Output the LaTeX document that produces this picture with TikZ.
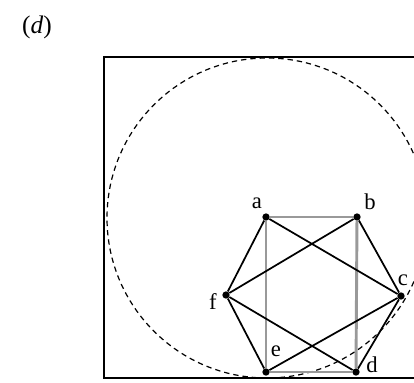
\documentclass[tikz,border=0pt]{standalone}
\usepackage{fontspec}
\setmainfont{Liberation Serif}
\usetikzlibrary{positioning}

\begin{document}
\begin{tikzpicture}[x=0.75pt, y=-0.75pt, font=\fontsize{17}{20}\selectfont,
  vtx/.style={circle, fill=black, inner sep=0pt, minimum size=5.5pt},
  blk/.style={line width=1.3pt},
  gry/.style={line width=2.2pt, black!40},
  lab/.style={inner sep=0pt}]
\useasboundingbox (0,0) rectangle (414,382);
\clip (0,0) rectangle (414,382);
\node[font=\fontsize{19}{22}\selectfont] (tag) at (37,27) {(\textit{d})};
\draw[line width=1.8pt] (104,57) rectangle (440,378);
\draw[line width=0.9pt, dash pattern=on 4pt off 3pt] (267,218) circle (160);
\node[vtx] (a) at (266,217) {};
\node[vtx] (b) at (357,217) {};
\node[vtx] (c) at (401,296) {};
\node[vtx] (d) at (356,372) {};
\node[vtx] (e) at (266,372) {};
\node[vtx] (f) at (226,295) {};
\node[lab] (la) at (257,203) {a};
\node[lab] (lb) at (370,202) {b};
\node[lab] (lc) at (403,280) {c};
\node[lab] (ld) at (372,365) {d};
\node[lab] (le) at (276,351) {e};
\node[lab] (lf) at (213,302) {f};
\draw[gry] (a) -- (b);
\draw[gry] (a) -- (e);
\draw[gry] (b) -- (d);
\draw[gry] (e) -- (d);
\foreach \u/\v in {a/f,a/c,b/f,b/c,c/d,c/e,f/d,f/e}
  \draw[blk] (\u) -- (\v);
\end{tikzpicture}
\end{document}
